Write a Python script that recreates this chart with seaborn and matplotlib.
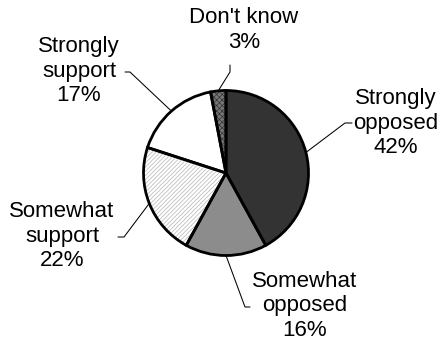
import numpy as np
import matplotlib
matplotlib.use("Agg")
import matplotlib.pyplot as plt
import seaborn as sns

categories = ["Strongly\nopposed", "Somewhat\nopposed", "Somewhat\nsupport", "Strongly\nsupport", "Don't know"]
values = [42, 16, 22, 17, 3]
pct_labels = ["42%", "16%", "22%", "17%", "3%"]

sns.set_theme(style="white")
plt.rcParams['font.family'] = ['Liberation Sans', 'DejaVu Sans']
plt.rcParams['hatch.linewidth'] = 0.5

W, H = 446, 347
fig = plt.figure(figsize=(W / 100, H / 100), dpi=100)
ax = fig.add_axes([0, 0, 1, 1])

cx, cy, r = 226, 173, 82.5
faces = ["#333333", "#8c8c8c", "#ffffff", "#ffffff", "#777777"]
hatches = [None, None, "////////", None, "xxxxxx"]
hcolors = ["#333333", "#8c8c8c", "#b4b4b4", "#ffffff", "#333333"]

# y axis inverted -> counterclock=True with inverted axis draws clockwise on screen
wedges, _ = ax.pie(values, startangle=-90, counterclock=True, center=(cx, cy),
                   radius=r, colors=faces, frame=True,
                   wedgeprops=dict(linewidth=0))
for w, h, hc in zip(wedges, hatches, hcolors):
    if h:
        w.set_hatch(h)
        w.set_edgecolor(hc)
# outlines
ax.pie(values, startangle=-90, counterclock=True, center=(cx, cy), radius=r,
       colors=["none"] * len(values), frame=True,
       wedgeprops=dict(linewidth=2.0, edgecolor="black", facecolor="none"))
ax.set_xlim(0, W)
ax.set_ylim(H, 0)
ax.set_aspect('equal')
ax.axis('off')

# label layout (pixel positions)
text_pos = [(396, 123), (305, 306), (62, 236), (79, 71), (244, 30)]
elbows = [((345, 123), (352, 123)), ((245, 307), (250, 307)),
          ((124, 237), (118, 237)), ((130, 72), (125, 72)),
          ((230, 72), (230, 65))]

cum = np.cumsum([0] + values[:-1])
for i, (cat, v, pl) in enumerate(zip(categories, values, pct_labels)):
    frac_mid = (cum[i] + v / 2) / sum(values)
    ang = np.deg2rad(90 - frac_mid * 360)
    sx = cx + r * np.cos(ang)
    sy = cy - r * np.sin(ang)
    (ex, ey), (fx, fy) = elbows[i]
    ax.plot([sx, ex, fx], [sy, ey, fy], color="black", lw=0.75, zorder=5)
    tx, ty = text_pos[i]
    ax.text(tx, ty, f"{cat}\n{pl}", ha="center", va="center", fontsize=16,
            color="black", linespacing=1.2)

fig.savefig("out.png", dpi=100)
